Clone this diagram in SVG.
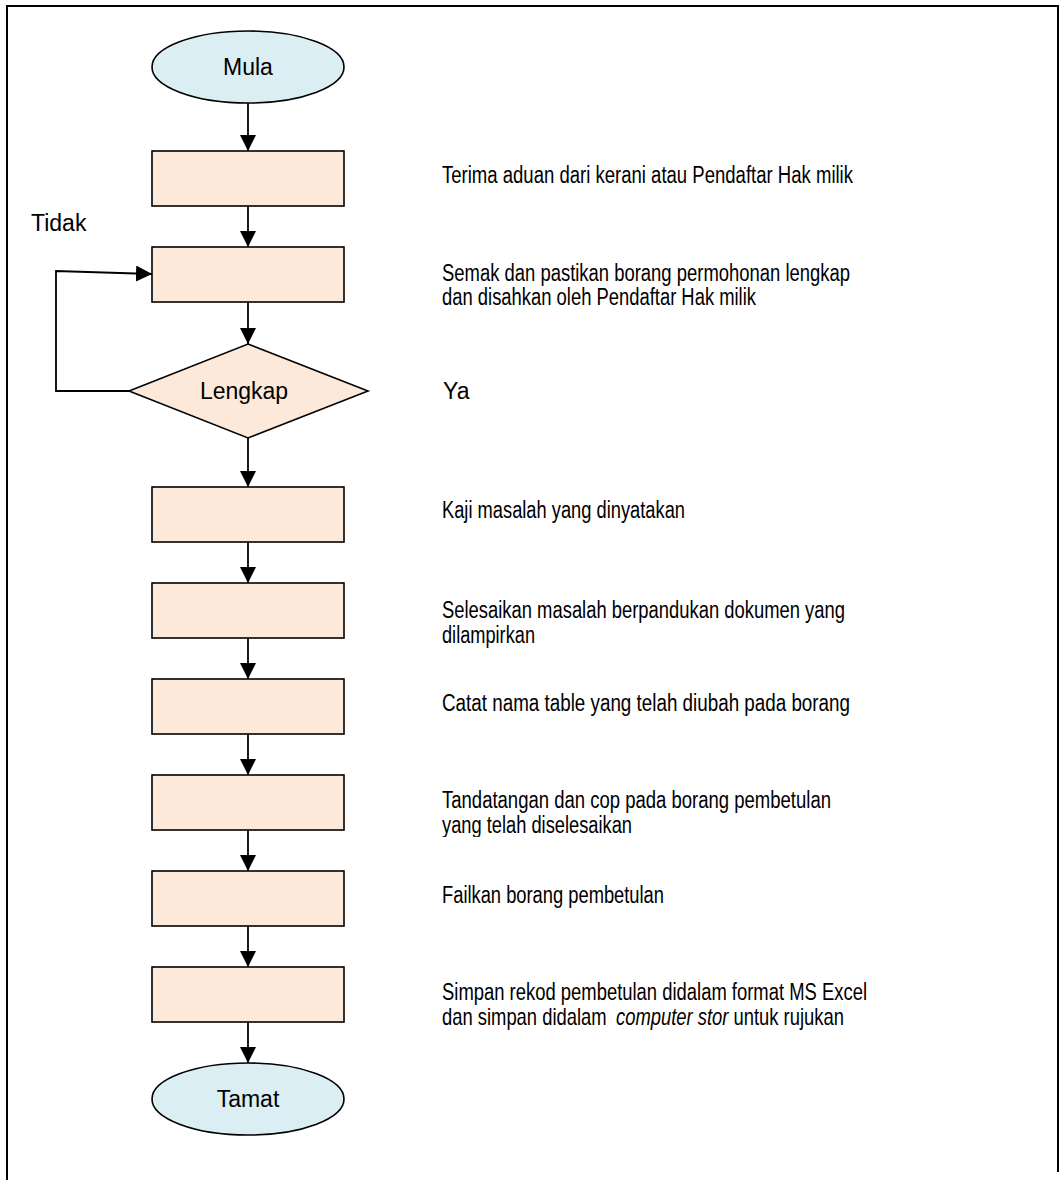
<svg xmlns="http://www.w3.org/2000/svg" width="1059" height="1180" viewBox="0 0 1059 1180">
  <style>
    .term { fill: #DAEEF3; stroke: #000; stroke-width: 1.6; }
    .proc { fill: #FDE9D9; stroke: #000; stroke-width: 1.6; }
    .lbl { font-family: "Liberation Sans", Arial, sans-serif; font-size: 23px; fill: #000; }
    .desc { font-family: "Liberation Sans", Arial, sans-serif; font-size: 23px; fill: #000; }
    .edge { fill: none; stroke: #000; stroke-width: 1.8; marker-end: url(#arrow); }
    .frame { stroke: #000; stroke-width: 2; fill: none; }
  </style>
  <defs>
    <marker id="arrow" markerUnits="userSpaceOnUse" markerWidth="16" markerHeight="16" refX="16" refY="8" orient="auto">
      <path d="M0,0 L16,8 L0,16 z" fill="#000"/>
    </marker>
    <clipPath id="cutLine">
      <rect x="430" y="800" width="400" height="37"/>
    </clipPath>
  </defs>

  <rect width="1059" height="1180" fill="#fff"/>

  <!-- page frame: top, left and right edges -->
  <g id="frame">
    <line class="frame" x1="6" y1="6" x2="1059" y2="6"/>
    <line class="frame" x1="7" y1="5" x2="7" y2="1180"/>
    <line class="frame" x1="1058" y1="5" x2="1058" y2="1172"/>
  </g>

  <!-- connectors -->
  <g id="connectors">
    <line class="edge" x1="248" y1="103" x2="248" y2="151"/>
    <line class="edge" x1="248" y1="206" x2="248" y2="247"/>
    <line class="edge" x1="248" y1="302" x2="248" y2="344"/>
    <line class="edge" x1="248" y1="438" x2="248" y2="487"/>
    <line class="edge" x1="248" y1="542" x2="248" y2="583"/>
    <line class="edge" x1="248" y1="638" x2="248" y2="679"/>
    <line class="edge" x1="248" y1="734" x2="248" y2="775"/>
    <line class="edge" x1="248" y1="830" x2="248" y2="871"/>
    <line class="edge" x1="248" y1="926" x2="248" y2="967"/>
    <line class="edge" x1="248" y1="1022" x2="248" y2="1063"/>
    <polyline class="edge" points="129,391 56,391 56,271 152,274"/>
  </g>

  <!-- nodes -->
  <g id="start">
    <ellipse class="term" cx="248" cy="67" rx="96" ry="36"/>
    <text class="lbl" x="248" y="75" text-anchor="middle">Mula</text>
  </g>
  <g id="step-terima">
    <rect class="proc" x="152" y="151" width="192" height="55"/>
  </g>
  <g id="step-semak">
    <rect class="proc" x="152" y="247" width="192" height="55"/>
  </g>
  <g id="decision-lengkap">
    <polygon class="proc" points="248,344 368,391 248,438 129,391"/>
    <text class="lbl" x="244" y="399" text-anchor="middle">Lengkap</text>
  </g>
  <g id="step-kaji">
    <rect class="proc" x="152" y="487" width="192" height="55"/>
  </g>
  <g id="step-selesaikan">
    <rect class="proc" x="152" y="583" width="192" height="55"/>
  </g>
  <g id="step-catat">
    <rect class="proc" x="152" y="679" width="192" height="55"/>
  </g>
  <g id="step-tandatangan">
    <rect class="proc" x="152" y="775" width="192" height="55"/>
  </g>
  <g id="step-failkan">
    <rect class="proc" x="152" y="871" width="192" height="55"/>
  </g>
  <g id="step-simpan">
    <rect class="proc" x="152" y="967" width="192" height="55"/>
  </g>
  <g id="end">
    <ellipse class="term" cx="248" cy="1099" rx="96" ry="36"/>
    <text class="lbl" x="248" y="1107" text-anchor="middle">Tamat</text>
  </g>

  <!-- branch labels -->
  <g id="branch-labels">
    <text class="lbl" x="31" y="231">Tidak</text>
    <text class="lbl" x="443" y="399">Ya</text>
  </g>

  <!-- step descriptions -->
  <g id="descriptions">
    <text class="desc" x="442" y="183" textLength="411" lengthAdjust="spacingAndGlyphs">Terima aduan dari kerani atau Pendaftar Hak milik</text>
    <text class="desc" x="442" y="281" textLength="408" lengthAdjust="spacingAndGlyphs">Semak dan pastikan borang permohonan lengkap</text>
    <text class="desc" x="442" y="305" textLength="314" lengthAdjust="spacingAndGlyphs">dan disahkan oleh Pendaftar Hak milik</text>
    <text class="desc" x="442" y="518" textLength="243" lengthAdjust="spacingAndGlyphs">Kaji masalah yang dinyatakan</text>
    <text class="desc" x="442" y="618" textLength="403" lengthAdjust="spacingAndGlyphs">Selesaikan masalah berpandukan dokumen yang</text>
    <text class="desc" x="442" y="643" textLength="93" lengthAdjust="spacingAndGlyphs">dilampirkan</text>
    <text class="desc" x="442" y="711" textLength="408" lengthAdjust="spacingAndGlyphs">Catat nama table yang telah diubah pada borang</text>
    <text class="desc" x="442" y="808" textLength="389" lengthAdjust="spacingAndGlyphs">Tandatangan dan cop pada borang pembetulan</text>
    <text class="desc" x="442" y="833" textLength="190" lengthAdjust="spacingAndGlyphs" clip-path="url(#cutLine)">yang telah diselesaikan</text>
    <text class="desc" x="442" y="903" textLength="222" lengthAdjust="spacingAndGlyphs">Failkan borang pembetulan</text>
    <text class="desc" x="442" y="1000" textLength="425" lengthAdjust="spacingAndGlyphs">Simpan rekod pembetulan didalam format MS Excel</text>
    <text class="desc" transform="translate(442,1025) scale(0.8,1)"><tspan x="0">dan simpan didalam</tspan><tspan x="217.5" font-style="italic">computer stor</tspan><tspan> untuk rujukan</tspan></text>
  </g>
</svg>
